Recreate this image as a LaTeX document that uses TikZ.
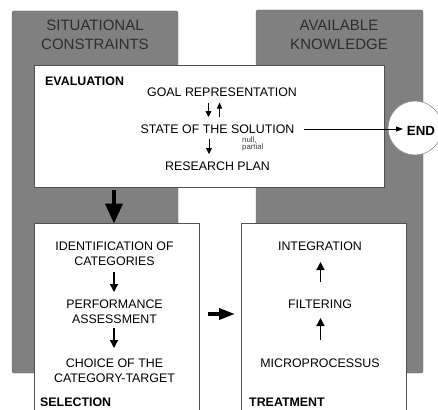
\documentclass[tikz,border=0pt]{standalone}
\usepackage{fontspec}
\setmainfont{Liberation Sans}
\usetikzlibrary{arrows.meta}

\definecolor{panelgray}{HTML}{808080}
\definecolor{paneltext}{HTML}{2E2E2E}
\definecolor{boxedge}{HTML}{505050}

\tikzset{
  panel/.style={fill=panelgray, draw=panelgray!85!black, line width=0.4pt, rounded corners=2pt},
  stagebox/.style={fill=white, draw=boxedge, line width=0.8pt},
  % multi-line nodes: the base anchor sits on the last line
  paneltitle/.style={font=\fontsize{15}{19}\selectfont, text=paneltext, align=center, anchor=base, inner sep=0pt},
  item/.style={font=\fontsize{12.4}{15}\selectfont, align=center, anchor=base, inner sep=0pt},
  stagelabel/.style={font=\fontsize{12.4}{15}\selectfont\bfseries, anchor=base west, inner sep=0pt},
  tiny/.style={font=\fontsize{7.8}{7.8}\selectfont, text=black!75, anchor=base west, inner sep=0pt},
  thinarrow/.style={line width=0.9pt, -{Triangle[width=6pt,length=6pt]}},
  midarrow/.style={line width=1.4pt, -{Triangle[width=8pt,length=8pt]}},
  bigarrow/.style={line width=4pt, -{Triangle[width=17pt,length=20pt]}},
  fatarrow/.style={line width=3.5pt, -{Triangle[width=11pt,length=16pt]}},
}

\begin{document}
\begin{tikzpicture}[x=1pt, y=-1pt]
\useasboundingbox (0,0) rectangle (438,409);
\clip (0,0) rectangle (438,409);
\fill[white] (0,0) rectangle (438,409);

% background columns
\draw[panel] (12,373) rectangle (178,11);
\draw[panel] (256,373) rectangle (423,10);
\node[paneltitle] (sit) at (95,49.5) {SITUATIONAL\\CONSTRAINTS};
\node[paneltitle] (know) at (339,50) {AVAILABLE\\KNOWLEDGE};

% evaluation stage
\draw[stagebox] (34,65) rectangle (384,187);
\node[stagelabel] (evl) at (45,85) {EVALUATION};
\node[item] (goal) at (222,96.5) {GOAL REPRESENTATION};
\node[item] (state) at (217.5,133) {STATE OF THE SOLUTION};
\node[item] (plan) at (217.5,170) {RESEARCH PLAN};
\node[tiny] (null) at (242,142.5) {null,};
\node[tiny] (partial) at (242,149.5) {partial};
\coordinate (gdA) at (208.5,102.5);
\coordinate (gdB) at (208.5,117);
\coordinate (guA) at (219.5,117);
\coordinate (guB) at (219.5,102.5);
\draw[thinarrow] (gdA) -- (gdB);
\draw[line width=0.6pt, -{Triangle[width=5pt,length=6pt]}] (guA) -- (guB);
\coordinate (sdA) at (209,139);
\coordinate (sdB) at (209,154);
\draw[thinarrow] (sdA) -- (sdB);

% exit
\node[circle, fill=white, draw=black!45, line width=0.6pt, minimum size=54pt, inner sep=0pt] (endc) at (415,128) {};
\node[font=\fontsize{13.3}{13.3}\selectfont\bfseries, anchor=base, inner sep=0pt] (endt) at (421,135) {END};
\coordinate (exitA) at (304,129);
\coordinate (exitB) at (403,129);
\draw[line width=0.8pt, -{Triangle[width=5pt,length=7pt]}] (exitA) -- (exitB);

% selection stage
\draw[stagebox] (34,223) rectangle (199,420);
\node[item] (ident) at (114.5,265) {IDENTIFICATION OF\\CATEGORIES};
\node[item] (perf) at (114.5,323) {PERFORMANCE\\ASSESSMENT};
\node[item] (choice) at (114.5,382) {CHOICE OF THE\\CATEGORY-TARGET};
\node[stagelabel] (sel) at (40,406.5) {SELECTION};
\coordinate (s1A) at (114,272);
\coordinate (s1B) at (114,292);
\coordinate (s2A) at (114,328);
\coordinate (s2B) at (114,348);
\draw[midarrow] (s1A) -- (s1B);
\draw[midarrow] (s2A) -- (s2B);

% treatment stage
\draw[stagebox] (241,223) rectangle (406,420);
\node[item] (integ) at (320,250) {INTEGRATION};
\node[item] (filt) at (320,308) {FILTERING};
\node[item] (micro) at (320,367) {MICROPROCESSUS};
\node[stagelabel] (treat) at (249,406.5) {TREATMENT};
\coordinate (t1A) at (320.5,282);
\coordinate (t1B) at (320.5,262);
\coordinate (t2A) at (320.5,340);
\coordinate (t2B) at (320.5,318);
\draw[midarrow] (t1A) -- (t1B);
\draw[midarrow] (t2A) -- (t2B);

% transitions between stages
\coordinate (eA) at (114,190);
\coordinate (eB) at (114,223.5);
\draw[bigarrow] (eA) -- (eB);
\coordinate (mA) at (208,314);
\coordinate (mB) at (235,314);
\draw[fatarrow] (mA) -- (mB);
\end{tikzpicture}
\end{document}
